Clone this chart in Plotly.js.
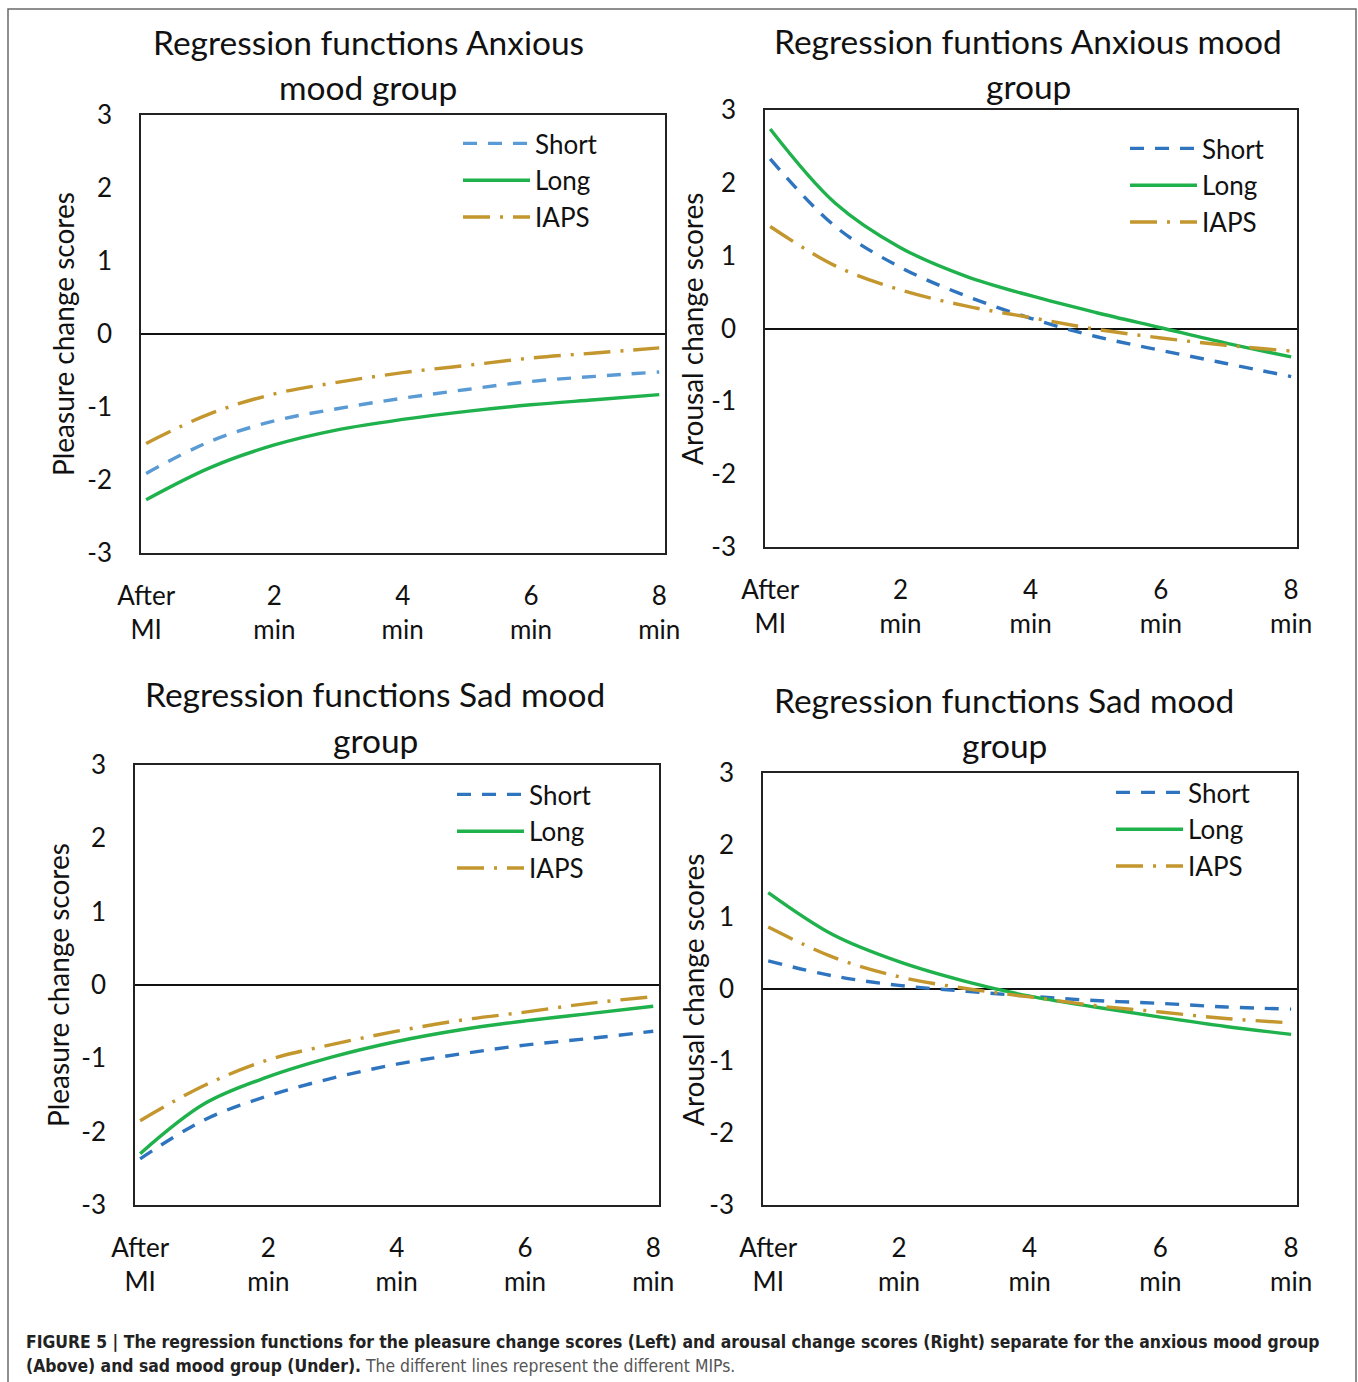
<!DOCTYPE html>
<html>
<head>
<meta charset="utf-8">
<script src="https://cdn.plot.ly/plotly-3.0.1.min.js"></script>
<style>html,body{margin:0;padding:0;background:#fff;}#chart{width:1358px;height:1382px;}</style>
</head>
<body>
<div id="chart"></div>
<script>
// ---- data (minutes after mood induction) ----
const minutes = [0, 1, 2, 3, 4, 5, 6, 7, 8];
const tickVals = [0, 2, 4, 6, 8];
const tickText = ["After<br>MI", "2<br>min", "4<br>min", "6<br>min", "8<br>min"];
const yTickVals = [-3, -2, -1, 0, 1, 2, 3];
const yTickText = ["-3", "-2", "-1", "0", "1", "2", "3"];
const seriesNames = ["Short", "Long", "IAPS"];

// Anxious mood group – pleasure
const anxPleasureShort = [-1.91, -1.47, -1.19, -1.02, -0.88, -0.76, -0.65, -0.58, -0.52];
const anxPleasureLong  = [-2.27, -1.83, -1.52, -1.31, -1.17, -1.06, -0.97, -0.90, -0.83];
const anxPleasureIAPS  = [-1.50, -1.09, -0.82, -0.66, -0.53, -0.43, -0.33, -0.26, -0.19];
// Anxious mood group – arousal
const anxArousalShort = [2.33, 1.40, 0.84, 0.45, 0.14, -0.11, -0.30, -0.48, -0.66];
const anxArousalLong  = [2.74, 1.72, 1.11, 0.72, 0.45, 0.22, 0.01, -0.20, -0.39];
const anxArousalIAPS  = [1.40, 0.86, 0.53, 0.31, 0.15, -0.01, -0.13, -0.23, -0.31];
// Sad mood group – pleasure
const sadPleasureShort = [-2.37, -1.84, -1.51, -1.27, -1.08, -0.94, -0.82, -0.73, -0.63];
const sadPleasureLong  = [-2.30, -1.62, -1.25, -0.98, -0.77, -0.61, -0.49, -0.39, -0.29];
const sadPleasureIAPS  = [-1.85, -1.37, -1.02, -0.81, -0.63, -0.48, -0.37, -0.25, -0.16];
// Sad mood group – arousal
const sadArousalShort = [0.39, 0.18, 0.05, -0.03, -0.10, -0.16, -0.20, -0.25, -0.28];
const sadArousalLong  = [1.34, 0.75, 0.38, 0.11, -0.10, -0.25, -0.39, -0.52, -0.63];
const sadArousalIAPS  = [0.86, 0.44, 0.17, 0.01, -0.11, -0.23, -0.32, -0.41, -0.47];

const panelTitles = [
  ["Regression functions Anxious", "mood group"],
  ["Regression funtions Anxious mood", "group"],
  ["Regression functions Sad mood", "group"],
  ["Regression functions Sad mood", "group"]
];
const yTitles = ["Pleasure change scores", "Arousal change scores", "Pleasure change scores", "Arousal change scores"];
const captionBold1 = "FIGURE 5 | The regression functions for the pleasure change scores (Left) and arousal change scores (Right) separate for the anxious mood group";
const captionBold2 = "(Above) and sad mood group (Under).";
const captionPlain2 = " The different lines represent the different MIPs.";

// ---- styling ----
const W = 1358, H = 1382;
const FONT = "Lato, 'Open Sans', sans-serif";
const green = "#1FB14B", gold = "#C4962E", blueLight = "#5B9BD5", blueDark = "#2E74BE";
const dashShort = "14px,11px";
const dashIAPS = "27px,10px,3px,10px";
const lw = 3.4;

// pixel boxes of the four plots: [left, right, top, bottom]
const boxes = [
  [141, 665, 115, 553],
  [765, 1297, 110, 547],
  [135, 659, 765, 1205],
  [763, 1297, 773, 1205]
];
const panelData = [
  [anxPleasureShort, anxPleasureLong, anxPleasureIAPS, blueLight],
  [anxArousalShort, anxArousalLong, anxArousalIAPS, blueDark],
  [sadPleasureShort, sadPleasureLong, sadPleasureIAPS, blueDark],
  [sadArousalShort, sadArousalLong, sadArousalIAPS, blueDark]
];

const px = x => x / W;
const py = y => 1 - y / H;

const traces = [];
const layout = {
  width: W, height: H,
  margin: {l: 0, r: 0, t: 0, b: 0},
  paper_bgcolor: "#fff", plot_bgcolor: "#fff",
  font: {family: FONT, color: "#111"},
  showlegend: true,
  annotations: [],
  shapes: [{
    type: "rect", xref: "paper", yref: "paper",
    x0: px(8), x1: px(1356), y0: -0.05, y1: py(9),
    line: {color: "#6a6a6a", width: 1.5}
  }]
};

const legendKeys = ["legend", "legend2", "legend3", "legend4"];
const legendPos = [[458, 120], [1125, 125], [452, 771], [1111, 769]];
const titlePos = [[368, 42, 87], [1028, 41, 86], [375, 694, 740], [1004, 700, 745]];
const yTitlePos = [[63, 334], [692, 329], [58, 985], [693, 990]];

panelData.forEach((pd, i) => {
  const n = i + 1;
  const xa = "x" + (n === 1 ? "" : n), ya = "y" + (n === 1 ? "" : n);
  const styles = [
    {color: pd[3], width: lw, dash: dashShort},
    {color: green, width: lw, dash: "solid"},
    {color: gold, width: lw, dash: dashIAPS}
  ];
  [pd[0], pd[1], pd[2]].forEach((vals, k) => {
    traces.push({
      type: "scatter", mode: "lines",
      x: minutes, y: vals,
      name: seriesNames[k],
      xaxis: xa, yaxis: ya,
      legend: legendKeys[i],
      line: Object.assign({shape: "spline", smoothing: 1}, styles[k]),
      hoverinfo: "x+y+name"
    });
  });
  const b = boxes[i];
  const axKeyX = "xaxis" + (n === 1 ? "" : n), axKeyY = "yaxis" + (n === 1 ? "" : n);
  layout[axKeyX] = {
    domain: [px(b[0]), px(b[1])],
    range: [-0.08, 8.09],
    anchor: ya,
    showgrid: false, zeroline: false,
    showline: true, mirror: true, linecolor: "#222", linewidth: 1.8,
    ticks: "", tickvals: tickVals, ticktext: tickText,
    ticklabelstandoff: 19,
    tickfont: {family: FONT, size: 26, color: "#111"}
  };
  layout[axKeyY] = {
    domain: [py(b[3]), py(b[2])],
    range: [-3, 3],
    anchor: xa,
    showgrid: false,
    zeroline: true, zerolinecolor: "#111", zerolinewidth: 2,
    showline: true, mirror: true, linecolor: "#222", linewidth: 1.8,
    ticks: "", tickvals: yTickVals, ticktext: yTickText,
    ticklabelstandoff: 22,
    tickfont: {family: FONT, size: 26, color: "#111"}
  };
  layout[legendKeys[i]] = {
    x: px(legendPos[i][0]), y: py(legendPos[i][1]),
    xanchor: "left", yanchor: "top",
    bgcolor: "rgba(0,0,0,0)", borderwidth: 0,
    itemwidth: 67,
    tracegroupgap: 0,
    font: {family: FONT, size: 26, color: "#111"}
  };
  const tp = titlePos[i];
  layout.annotations.push({
    text: panelTitles[i][0], xref: "paper", yref: "paper",
    x: px(tp[0]), y: py(tp[1]), xanchor: "center", yanchor: "middle",
    showarrow: false, font: {family: FONT, size: 33.5, color: "#111"}
  });
  layout.annotations.push({
    text: panelTitles[i][1], xref: "paper", yref: "paper",
    x: px(tp[0]), y: py(tp[2]), xanchor: "center", yanchor: "middle",
    showarrow: false, font: {family: FONT, size: 33.5, color: "#111"}
  });
  const yt = yTitlePos[i];
  layout.annotations.push({
    text: yTitles[i], xref: "paper", yref: "paper",
    x: px(yt[0]), y: py(yt[1]), xanchor: "center", yanchor: "middle",
    textangle: -90, showarrow: false, font: {family: FONT, size: 28, color: "#111"}
  });
});

const CAPFONT = "'DejaVu Sans Condensed', 'Liberation Sans', sans-serif";
layout.annotations.push({
  text: "<b>" + captionBold1 + "</b>", xref: "paper", yref: "paper",
  x: px(24), y: py(1342), xanchor: "left", yanchor: "middle",
  showarrow: false, font: {family: CAPFONT, size: 17.4, color: "#222"}
});
layout.annotations.push({
  text: "<b>" + captionBold2 + "</b><span style='color:#555'>" + captionPlain2 + "</span>",
  xref: "paper", yref: "paper",
  x: px(24), y: py(1366), xanchor: "left", yanchor: "middle",
  showarrow: false, font: {family: CAPFONT, size: 17.4, color: "#222"}
});

Plotly.newPlot("chart", traces, layout, {displayModeBar: false, staticPlot: true});
</script>
</body>
</html>
